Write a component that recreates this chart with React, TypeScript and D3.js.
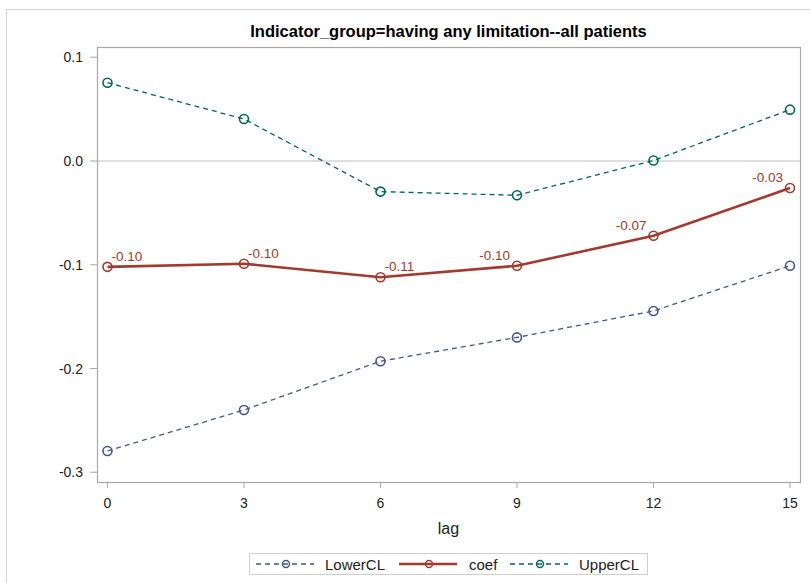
import React from "react";
import * as d3 from "d3";

const lags = [0, 3, 6, 9, 12, 15];
const lowerCL = [-0.2795, -0.24, -0.193, -0.17, -0.1445, -0.101];
const coef = [-0.102, -0.099, -0.112, -0.101, -0.072, -0.026];
const upperCL = [0.0755, 0.0405, -0.0295, -0.033, 0.0005, 0.0495];
const yTicks = [0.1, 0.0, -0.1, -0.2, -0.3];
const xTicks = [0, 3, 6, 9, 12, 15];
// which side of the point each coef label sits on
const labelSide = ["right", "right", "right", "left", "left", "left"];

const W = 810;
const H = 583;
const M = { left: 97, right: 800, top: 47, bottom: 482 };
const FONT = "'Liberation Sans', Arial, sans-serif";

const series = [
  { name: "LowerCL", values: lowerCL, color: "#445694", width: 1.3, dash: "5,4" },
  { name: "coef", values: coef, color: "#A23A2E", width: 2.6, dash: null },
  { name: "UpperCL", values: upperCL, color: "#01665E", width: 1.3, dash: "5,4" },
];

export default function App() {
  const x = d3.scaleLinear().domain([-0.23, 15.22]).range([M.left, M.right]);
  const y = d3.scaleLinear().domain([-0.3094, 0.1099]).range([M.bottom, M.top]);
  const line = d3
    .line<number>()
    .x((_, i) => x(lags[i]))
    .y((d) => y(d));

  const fmt = d3.format(".1f");
  const fmt2 = d3.format(".2f");

  const legendItems = [
    { s: series[0], x0: 256, tx: 325 },
    { s: series[1], x0: 399, tx: 469 },
    { s: series[2], x0: 510, tx: 579 },
  ];

  return (
    <svg
      width={W}
      height={H}
      style={{ position: "absolute", left: 0, top: 0, background: "#fff" }}
      fontFamily={FONT}
    >
      <rect x={6.5} y={9.5} width={W} height={H} fill="#fff" stroke="#d4d4d4" strokeWidth={1} />

      <text x={(M.left + M.right) / 2} y={37} textAnchor="middle" fontSize={16.5} fontWeight="bold" fill="#000">
        Indicator_group=having any limitation--all patients
      </text>

      {/* zero reference line */}
      <line x1={M.left} x2={M.right} y1={y(0)} y2={y(0)} stroke="#c0c0c0" strokeWidth={1} />

      {/* plot frame */}
      <rect
        x={M.left + 0.5}
        y={M.top + 0.5}
        width={M.right - M.left}
        height={M.bottom - M.top}
        fill="none"
        stroke="#a8a8a8"
        strokeWidth={1.2}
      />

      {/* y axis */}
      {yTicks.map((t) => (
        <g key={t}>
          <line x1={M.left - 7} x2={M.left} y1={y(t)} y2={y(t)} stroke="#a8a8a8" />
          <text x={M.left - 14} y={y(t) + 5} textAnchor="end" fontSize={14} fill="#222">
            {fmt(t).replace("−", "-")}
          </text>
        </g>
      ))}

      {/* x axis */}
      {xTicks.map((t) => (
        <g key={t}>
          <line x1={x(t)} x2={x(t)} y1={M.bottom} y2={M.bottom + 6} stroke="#a8a8a8" />
          <text x={x(t)} y={M.bottom + 26} textAnchor="middle" fontSize={14} fill="#222">
            {t}
          </text>
        </g>
      ))}
      <text x={(M.left + M.right) / 2} y={534} textAnchor="middle" fontSize={16} fill="#222">
        lag
      </text>

      {/* series */}
      {series.map((s) => (
        <g key={s.name}>
          <path
            d={line(s.values) || ""}
            fill="none"
            stroke={s.color}
            strokeWidth={s.width}
            strokeDasharray={s.dash || undefined}
          />
          {s.values.map((v, i) => (
            <circle
              key={i}
              cx={x(lags[i])}
              cy={y(v)}
              r={4.5}
              fill="none"
              stroke={s.color}
              strokeWidth={1.6}
            />
          ))}
        </g>
      ))}

      {/* coef value labels */}
      {coef.map((v, i) => {
        const right = labelSide[i] === "right";
        return (
          <text
            key={i}
            x={x(lags[i]) + (right ? 4 : -7)}
            y={y(v) - 6}
            textAnchor={right ? "start" : "end"}
            fontSize={13.5}
            fill="#A23A2E"
          >
            {fmt2(v).replace("−", "-")}
          </text>
        );
      })}

      {/* legend */}
      <rect x={249.5} y={553.5} width={398} height={21} fill="#fff" stroke="#cfcfcf" />
      {legendItems.map(({ s, x0, tx }) => (
        <g key={s.name}>
          <line
            x1={x0}
            x2={x0 + 58}
            y1={564}
            y2={564}
            stroke={s.color}
            strokeWidth={s.width}
            strokeDasharray={s.dash || undefined}
          />
          <circle cx={x0 + 30} cy={564} r={3.5} fill="none" stroke={s.color} strokeWidth={1.4} />
          <text x={tx} y={569.5} fontSize={15} fill="#222">
            {s.name}
          </text>
        </g>
      ))}
    </svg>
  );
}
